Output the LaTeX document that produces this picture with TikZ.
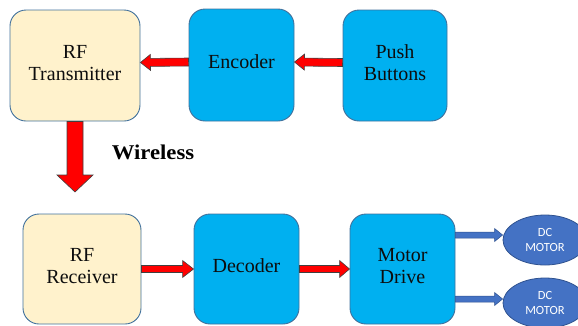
\documentclass[tikz,border=0pt]{standalone}
\usepackage{fontspec}
\setmainfont{Liberation Serif}
\newfontfamily\motorfont{Carlito}
\usetikzlibrary{calc,shapes.geometric}
\definecolor{beige}{HTML}{FFF2CC}
\definecolor{boxline}{HTML}{41719C}
\definecolor{cyanbox}{HTML}{00B0F0}
\definecolor{motorblue}{HTML}{4472C4}
\definecolor{motorline}{HTML}{2F528F}
\newcommand\boxtext[1]{\raisebox{0pt}[\height][\dimexpr\depth+1pt\relax]{\begin{tabular}{@{}c@{}}#1\end{tabular}}}
\tikzset{
  ba shaft/.store in=\bashaft, ba head/.store in=\bahead, ba len/.store in=\balen,
  ba shaft=4pt, ba head=8pt, ba len=10pt,
  blockarrow/.style={to path={
    ($(\tikztostart)!\bashaft!90:(\tikztotarget)$)
    -- ($($(\tikztotarget)!\balen!(\tikztostart)$)!\bashaft!90:(\tikztotarget)$)
    -- ($($(\tikztotarget)!\balen!(\tikztostart)$)!\bahead!90:(\tikztotarget)$)
    -- (\tikztotarget)
    -- ($($(\tikztotarget)!\balen!(\tikztostart)$)!\bahead!-90:(\tikztotarget)$)
    -- ($($(\tikztotarget)!\balen!(\tikztostart)$)!\bashaft!-90:(\tikztotarget)$)
    -- ($(\tikztostart)!\bashaft!-90:(\tikztotarget)$) -- cycle}},
  redarrow/.style={blockarrow, fill=red, draw=black!75, line width=0.6pt, line join=miter},
  bluearrow/.style={blockarrow, fill=motorblue, draw=motorline, line width=0.5pt,
    ba shaft=3pt, ba head=6.5pt, ba len=8pt},
  blk/.style={draw=boxline, line width=0.9pt, rounded corners=16pt, align=center,
    inner sep=0pt, font=\fontsize{20}{22}\selectfont, text=black!95},
  beigebox/.style={blk, fill=beige},
  cyanbox/.style={blk, fill=cyanbox},
  motor/.style={ellipse, fill=motorblue, draw=motorline, line width=0.8pt,
    minimum width=84pt, minimum height=50pt, inner sep=0pt, align=center,
    text=white, font=\motorfont\fontsize{12.5}{15}\selectfont},
}
\begin{document}
\begin{tikzpicture}[x=1pt, y=-1pt]
\useasboundingbox (0,0) rectangle (578,325);
\clip (0,0) rectangle (578,325);
% top row
\node[beigebox, minimum width=130pt, minimum height=111pt] (rft) at (75,65.5) {\boxtext{RF\\Transmitter}};
\node[cyanbox, minimum width=105pt, minimum height=112pt] (enc) at (241.5,65) {\boxtext{Encoder}};
\node[cyanbox, minimum width=104pt, minimum height=111pt] (push) at (395,65.5) {\boxtext{Push\\Buttons}};
% bottom row
\node[beigebox, minimum width=118pt, minimum height=110pt] (rfr) at (82,269) {\boxtext{RF\\Receiver}};
\node[cyanbox, minimum width=105pt, minimum height=110pt] (dec) at (246.5,269) {\boxtext{Decoder}};
\node[cyanbox, minimum width=105pt, minimum height=110pt] (md) at (402.5,269) {\boxtext{Motor\\Drive}};
\node[motor] (m1) at (545,240) {DC\\MOTOR};
\node[motor] (m2) at (545,303) {DC\\MOTOR};
% wireless label
\node[font=\bfseries\fontsize{21}{24}\selectfont, xscale=1.08] (wl) at (153,152) {Wireless};
% arrows
\draw[redarrow] ([yshift=3pt]push.west) to ([yshift=3pt]enc.east);
\draw[redarrow] ([yshift=3pt]enc.west) to ([yshift=3pt]rft.east);
\coordinate (wtip) at (75,192);
\draw[redarrow, ba shaft=8pt, ba head=18pt, ba len=17pt] (rft.south) to (wtip);
\draw[redarrow, ba shaft=3.5pt, ba head=8.5pt, ba len=11pt] (rfr.east) to (dec.west);
\draw[redarrow, ba shaft=3.5pt, ba head=8.5pt, ba len=10pt] (dec.east) to (md.west);
\coordinate (a1) at ([yshift=34pt]md.east);
\coordinate (a2) at ([yshift=-30pt]md.east);
\draw[bluearrow] (a1) to (a1 -| m1.west);
\draw[bluearrow] (a2) to (a2 -| m2.west);
\end{tikzpicture}
\end{document}
